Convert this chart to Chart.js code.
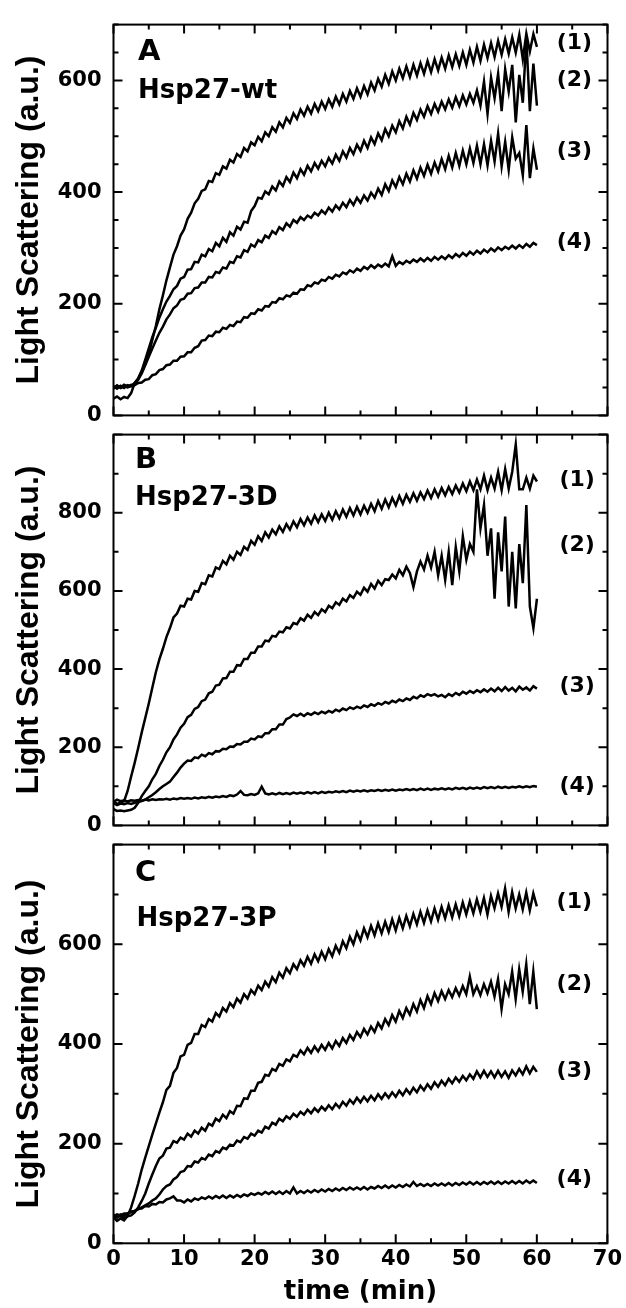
<!DOCTYPE html>
<html><head><meta charset="utf-8">
<script src="https://cdn.jsdelivr.net/npm/chart.js@4.4.1/dist/chart.umd.min.js"></script>
<style>
html,body{margin:0;padding:0;background:#fff;}
#wrap{position:relative;width:626px;height:1308px;overflow:hidden;background:#fff;}
canvas{position:absolute;left:0;}
</style></head><body>
<div id="wrap">
<canvas id="cA" width="626" height="440" style="top:0px"></canvas>
<canvas id="cB" width="626" height="440" style="top:410px"></canvas>
<canvas id="cC" width="626" height="488" style="top:820px"></canvas>
</div>
<script>
// time axis (min)
const time = [
0,0.5,1,1.5,2,2.5,3,3.5,4,4.5,
5,5.5,6,6.5,7,7.5,8,8.5,9,9.5,
10,10.5,11,11.5,12,12.5,13,13.5,14,14.5,
15,15.5,16,16.5,17,17.5,18,18.5,19,19.5,
20,20.5,21,21.5,22,22.5,23,23.5,24,24.5,
25,25.5,26,26.5,27,27.5,28,28.5,29,29.5,
30,30.5,31,31.5,32,32.5,33,33.5,34,34.5,
35,35.5,36,36.5,37,37.5,38,38.5,39,39.5,
40,40.5,41,41.5,42,42.5,43,43.5,44,44.5,
45,45.5,46,46.5,47,47.5,48,48.5,49,49.5,
50,50.5,51,51.5,52,52.5,53,53.5,54,54.5,
55,55.5,56,56.5,57,57.5,58,58.5,59,59.5,
60];

// Panel A: Hsp27-wt
const wt1 = [
30,34,29,33,31,40,58,66,80,92,
110,135,160,190,215,242,265,288,303,322,
333,352,363,380,388,402,405,420,418,434,
431,446,442,458,453,468,463,479,473,489,
484,499,491,507,500,516,508,525,516,533,
524,541,531,548,537,553,541,558,545,562,
549,566,553,571,557,576,562,581,567,586,
571,590,575,596,582,603,589,610,594,616,
600,621,604,625,606,628,609,631,612,635,
615,638,618,641,621,645,624,647,626,650,
628,655,632,660,635,664,640,667,642,671,
646,674,648,677,650,682,638,684,652,683,
660];
const wt2 = [
52,48,53,49,54,52,58,66,80,100,
120,140,157,175,190,204,214,226,232,245,
248,261,262,275,274,288,285,298,294,309,
303,318,311,328,322,338,333,347,345,366,
375,390,388,401,396,410,403,419,411,427,
418,435,425,441,431,447,437,452,442,456,
446,461,451,467,456,473,462,479,468,485,
474,492,479,498,486,505,493,513,500,519,
507,527,514,535,521,542,529,548,535,554,
540,558,544,562,548,566,551,570,554,573,
557,576,560,582,555,598,540,605,568,612,
545,620,580,628,525,610,560,675,545,630,
555];
const wt3 = [
50,53,49,52,50,53,57,64,75,90,
105,120,134,148,159,172,181,192,197,207,
209,218,219,228,229,238,238,248,247,257,
255,265,263,275,273,285,283,296,293,306,
302,314,310,322,318,330,325,337,332,344,
338,350,345,355,350,358,354,363,358,367,
361,372,365,376,369,381,373,386,377,390,
381,394,385,399,390,406,395,414,402,421,
409,427,414,433,419,439,424,444,429,449,
433,453,437,459,441,465,444,470,447,474,
450,478,452,483,450,486,448,492,455,505,
446,490,440,498,460,470,430,520,425,478,
440];
const wt4 = [
48,54,50,55,52,55,54,58,59,64,
65,72,74,81,83,90,91,98,98,105,
106,113,113,121,124,134,135,143,142,150,
149,157,155,162,160,168,167,176,175,183,
182,190,188,196,195,203,202,210,208,215,
213,220,218,226,225,233,231,238,236,243,
241,248,245,252,249,256,253,260,256,263,
259,266,262,269,264,270,266,272,267,285,
268,275,271,277,273,279,275,281,276,282,
277,284,279,285,280,287,282,289,284,291,
286,293,288,295,290,297,292,299,294,301,
296,302,298,304,299,305,300,307,302,309,
305];

// Panel B: Hsp27-3D
const d1 = [
62,55,58,62,88,125,160,198,238,275,
312,352,392,425,452,482,505,532,542,562,
560,580,578,600,598,620,617,640,637,660,
656,677,668,690,680,700,692,713,705,728,
718,740,728,750,737,757,745,765,751,771,
757,778,763,784,768,788,772,793,776,796,
779,800,782,804,786,808,790,812,793,815,
796,818,800,823,804,830,810,834,814,838,
819,843,823,846,828,850,831,852,835,857,
838,860,841,863,845,866,848,870,852,875,
855,880,858,885,860,895,858,890,862,905,
858,912,862,905,975,860,860,890,862,895,
880];
const d2 = [
42,37,38,36,38,40,45,58,75,88,
100,118,132,152,168,187,200,220,233,250,
260,277,283,298,303,318,322,338,342,358,
360,376,377,393,393,410,409,426,426,442,
442,458,458,473,471,485,483,496,494,507,
504,518,515,530,524,539,531,546,538,553,
546,562,556,571,564,580,573,589,582,598,
590,608,598,618,606,626,615,630,628,642,
632,654,640,662,646,610,650,675,655,690,
660,700,640,690,628,700,615,712,650,740,
680,720,700,860,760,820,690,760,580,750,
650,790,560,700,555,720,620,820,560,505,
580];
const d3 = [
58,52,56,54,57,55,58,60,62,66,
72,78,85,93,100,106,112,124,135,148,
158,166,165,174,172,181,177,185,182,190,
189,196,195,202,201,208,207,214,214,222,
220,228,226,236,236,246,246,258,258,272,
276,284,280,286,280,287,283,289,285,291,
287,293,289,296,292,299,295,302,298,304,
300,307,303,310,306,313,309,316,312,319,
315,322,318,325,321,329,325,333,329,336,
332,336,330,334,328,336,331,339,334,342,
337,344,339,346,341,348,342,350,343,352,
344,354,345,352,343,355,347,353,345,356,
350];
const d4 = [
60,66,62,64,61,64,63,65,63,66,
64,67,65,67,66,68,66,69,67,70,
68,70,68,71,69,72,70,73,71,74,
72,75,73,77,75,79,88,78,77,80,
78,82,99,82,79,82,79,83,80,83,
80,84,81,84,81,85,82,85,82,86,
83,86,84,87,85,88,85,89,86,89,
87,90,87,90,88,91,88,91,89,92,
89,92,90,93,90,93,90,94,91,94,
91,94,92,95,92,95,92,96,93,96,
93,97,94,97,94,98,95,98,95,99,
96,99,96,99,97,100,97,100,98,101,
99];

// Panel C: Hsp27-3P
const p1 = [
52,45,50,46,55,72,95,120,148,172,
195,218,240,262,283,308,316,342,352,375,
378,398,402,420,420,438,434,450,445,462,
455,472,465,482,474,491,483,500,491,508,
500,517,508,525,515,534,524,543,533,552,
542,560,550,568,557,575,561,580,566,585,
570,590,576,597,583,606,592,615,600,624,
608,632,614,637,618,642,622,645,625,650,
628,653,632,657,636,661,640,665,643,668,
646,672,649,675,652,678,654,680,656,684,
660,686,662,690,665,693,660,697,672,702,
675,712,665,705,672,700,670,704,668,702,
676];
const p2 = [
58,52,55,50,54,56,62,72,85,100,
120,138,155,170,176,190,192,205,202,212,
208,220,214,226,220,232,226,240,236,250,
245,258,251,265,260,276,275,291,290,306,
306,322,324,338,336,350,346,360,356,369,
365,378,374,387,379,392,382,395,385,398,
388,402,391,406,396,412,402,418,408,424,
414,430,419,435,424,442,431,450,438,458,
445,466,452,472,459,480,465,488,472,496,
480,502,486,506,490,508,494,512,497,516,
500,535,500,516,498,520,502,525,495,530,
470,520,500,545,490,550,505,560,480,545,
470];
const p3 = [
56,52,58,55,60,62,65,68,72,76,
80,86,90,98,108,115,118,128,133,143,
145,155,154,164,162,171,168,178,175,185,
182,192,189,198,196,206,203,213,210,220,
216,226,222,234,230,242,238,250,245,255,
250,260,254,264,258,268,261,271,264,274,
267,277,269,280,272,284,276,288,280,292,
283,294,285,296,287,299,290,301,292,303,
294,306,297,309,300,312,303,316,307,319,
310,323,314,326,317,330,321,333,324,336,
327,339,330,345,333,346,334,345,333,346,
334,345,332,347,337,350,339,355,341,354,
344];
const p4 = [
54,58,56,60,60,64,65,70,70,75,
74,79,78,83,82,88,90,94,86,86,
82,88,84,90,87,92,89,94,90,95,
91,96,91,96,92,97,93,98,95,100,
97,101,98,103,99,104,99,104,99,105,
100,112,100,105,101,106,102,107,103,108,
104,109,105,110,106,111,107,112,108,112,
108,113,108,113,110,115,111,116,111,116,
112,117,113,118,114,123,115,119,115,119,
115,120,116,120,116,121,116,121,117,122,
118,123,118,123,118,123,119,124,119,124,
119,124,120,125,120,125,120,126,121,126,
121];

// Text
const panelLetters = ['A','B','C'];
const panelNames = ['Hsp27-wt','Hsp27-3D','Hsp27-3P'];
const seriesNames = ['(1)','(2)','(3)','(4)'];
const yTitle = 'Light Scattering (a.u.)';
const xTitle = 'time (min)';
// label anchor positions in data units
const labelYA = [666,601,473,310];
const labelYB = [883,716,357,99];
const labelYC = [684,519,346,129];
const labelXA = 62.8, labelXB = 63.2, labelXC = 62.8;

const FONT = 'DejaVu Sans';

const framePlugin = {
  id: 'frame',
  afterDatasetsDraw(chart) {
    const o = chart.options.plugins.frame;
    const {ctx, chartArea: a, scales: {x, y}} = chart;
    ctx.save();
    ctx.strokeStyle = '#000';
    ctx.lineWidth = 2;
    ctx.strokeRect(a.left, a.top, a.right - a.left, a.bottom - a.top);
    ctx.beginPath();
    x.ticks.forEach(t => {
      const p = x.getPixelForValue(t.value);
      const L = t.value % 10 === 0 ? 9 : 5;
      ctx.moveTo(p, a.bottom); ctx.lineTo(p, a.bottom - L);
      ctx.moveTo(p, a.top); ctx.lineTo(p, a.top + L);
    });
    y.ticks.forEach(t => {
      const p = y.getPixelForValue(t.value);
      const L = t.value % o.major === 0 ? 9 : 5;
      ctx.moveTo(a.left, p); ctx.lineTo(a.left + L, p);
      ctx.moveTo(a.right, p); ctx.lineTo(a.right - L, p);
    });
    ctx.stroke();
    ctx.fillStyle = '#000';
    ctx.textAlign = 'left';
    ctx.textBaseline = 'alphabetic';
    ctx.font = 'bold 29px "' + FONT + '"';
    ctx.fillText(o.letter, a.left + o.lx, a.top + o.ly);
    ctx.font = 'bold 26px "' + FONT + '"';
    ctx.fillText(o.name, a.left + o.nx, a.top + o.ny);
    ctx.font = 'bold 22px "' + FONT + '"';
    ctx.textBaseline = 'middle';
    o.labelY.forEach((v, i) => {
      ctx.fillText(seriesNames[i], x.getPixelForValue(o.labelX), y.getPixelForValue(v));
    });
    ctx.restore();
  }
};

function makePanel(id, series, cfg) {
  const datasets = series.map(s => ({
    data: time.map((t, i) => ({x: t, y: s[i]})),
    borderColor: '#000', borderWidth: 2.5, pointRadius: 0, fill: false, tension: 0
  }));
  return new Chart(document.getElementById(id), {
    type: 'line',
    data: {datasets},
    plugins: [framePlugin],
    options: {
      responsive: false, animation: false, devicePixelRatio: 1,
      layout: {padding: cfg.padding},
      plugins: {
        legend: {display: false}, tooltip: {enabled: false},
        frame: cfg.frame
      },
      scales: {
        x: {
          type: 'linear', min: 0, max: 70,
          grid: {display: false, drawTicks: false}, border: {display: false},
          ticks: {
            display: cfg.showX, stepSize: 5, autoSkip: false, maxRotation: 0, padding: 4,
            color: '#000', font: {family: FONT, weight: 'bold', size: 21},
            callback: v => (v % 10 === 0 ? v : '')
          },
          title: {display: cfg.showX, text: xTitle, color: '#000', padding: {top: 0, bottom: 0},
                  font: {family: FONT, weight: 'bold', size: 26}},
          afterFit: s => { s.height = cfg.xH; }
        },
        y: {
          min: 0, max: cfg.yMax,
          grid: {display: false, drawTicks: false}, border: {display: false},
          ticks: {
            stepSize: cfg.yMinor, autoSkip: false, padding: 12,
            color: '#000', font: {family: FONT, weight: 'bold', size: 21},
            callback: v => (v !== cfg.yMax && v % 200 === 0 ? v : '')
          },
          title: {display: true, text: yTitle, color: '#000', padding: {top: 10, bottom: 0},
                  font: {family: 'Liberation Sans', weight: 'bold', size: 32}},
          afterFit: s => { s.width = 113.5; }
        }
      }
    }
  });
}

makePanel('cA', [wt1, wt2, wt3, wt4], {
  padding: {top: 14.7, bottom: 15.5, left: 0, right: 18.5},
  xH: 0, showX: false, yMax: 700, yMinor: 50,
  frame: {major: 200, letter: panelLetters[0], name: panelNames[0],
          lx: 24.5, ly: 35.3, nx: 24.5, ny: 73.6, labelY: labelYA, labelX: labelXA}
});
makePanel('cB', [d1, d2, d3, d4], {
  padding: {top: 14.5, bottom: 16.7, left: 0, right: 18.5},
  xH: 0, showX: false, yMax: 1000, yMinor: 100,
  frame: {major: 200, letter: panelLetters[1], name: panelNames[1],
          lx: 21.5, ly: 33.8, nx: 21.5, ny: 70.5, labelY: labelYB, labelX: labelXB}
});
makePanel('cC', [p1, p2, p3, p4], {
  padding: {top: 13.3, bottom: 0, left: 0, right: 18.5},
  xH: 64.7, showX: true, yMax: 800, yMinor: 100,
  frame: {major: 200, letter: panelLetters[2], name: panelNames[2],
          lx: 21.5, ly: 36.7, nx: 23, ny: 81.7, labelY: labelYC, labelX: labelXC}
});
</script>
</body></html>
